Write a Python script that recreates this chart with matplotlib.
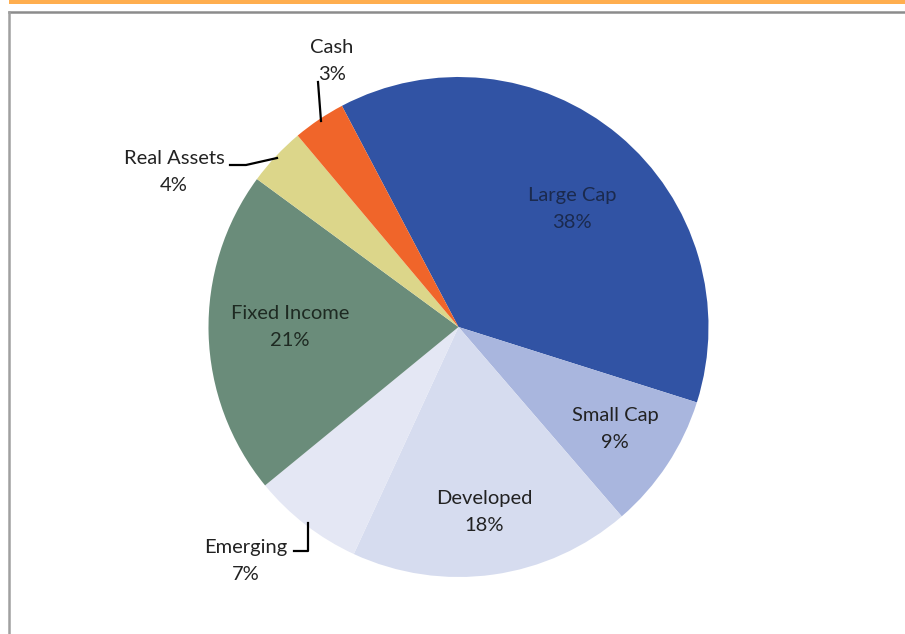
import matplotlib
matplotlib.use("Agg")
import matplotlib.pyplot as plt
from matplotlib.lines import Line2D
from matplotlib.patches import Rectangle

categories = ["Large Cap", "Small Cap", "Developed", "Emerging", "Fixed Income", "Real Assets", "Cash"]
values = [37.6, 8.8, 18.2, 7.2, 21.0, 3.8, 3.4]
colors = ["#3153A4", "#A9B6DE", "#D6DCEF", "#E4E7F4", "#6A8C7A", "#DCD68A", "#F0652A"]
text_colors = ["#1B2A4E", "#222222", "#222222", "#222222", "#1E2A22", "#222222", "#222222"]

W, H = 905, 634
fig = plt.figure(figsize=(W / 100, H / 100), dpi=100)
ax = fig.add_axes([0, 0, 1, 1])

plt.rcParams['font.family'] = ['Lato', 'DejaVu Sans']

cx, cy, r = 458.5, H - 327, 250
wedges, _ = ax.pie(values, colors=colors, startangle=117.8, counterclock=False,
                   center=(cx, cy), radius=r, frame=True,
                   wedgeprops=dict(linewidth=0))
ax.set_xlim(0, W)
ax.set_ylim(0, H)
ax.set_aspect("equal")
ax.axis("off")

def P(x, y):
    return x, H - y

# label positions (pixel coords of reference)
label_pos = {
    "Large Cap": (572, 209),
    "Small Cap": (615, 429),
    "Developed": (484, 512),
    "Emerging": (246, 561),
    "Fixed Income": (290, 327),
    "Real Assets": (174, 172),
    "Cash": (332, 61),
}
for cat, val, tc in zip(categories, values, text_colors):
    x, y = label_pos[cat]
    ax.text(*P(x, y), f"{cat}\n{val:.0f}%", ha="center", va="center",
            fontsize=14.5, color=tc, linespacing=1.7)

def leader(pts):
    xs = [p[0] for p in pts]
    ys = [H - p[1] for p in pts]
    ax.add_line(Line2D(xs, ys, color="black", lw=1.6))

leader([(318, 82), (321, 121)])
leader([(230, 165), (246, 165), (277, 158)])
leader([(294, 551), (308, 551), (308, 523)])

# decorative frame: orange top bar and gray border
fig.add_artist(Rectangle((9 / W, 1 - 4 / H), 1 - 9 / W, 4 / H, transform=fig.transFigure,
                         facecolor="#FFAE4F", edgecolor="none"))
fig.add_artist(Line2D([8.5 / W, 1], [1 - 12 / H, 1 - 12 / H], transform=fig.transFigure,
                      color="#8C8C8C", lw=1.8))
fig.add_artist(Line2D([8.5 / W, 8.5 / W], [0, 1 - 12 / H], transform=fig.transFigure,
                      color="#A0A0A0", lw=1.8))

fig.savefig("out.png", dpi=100)
